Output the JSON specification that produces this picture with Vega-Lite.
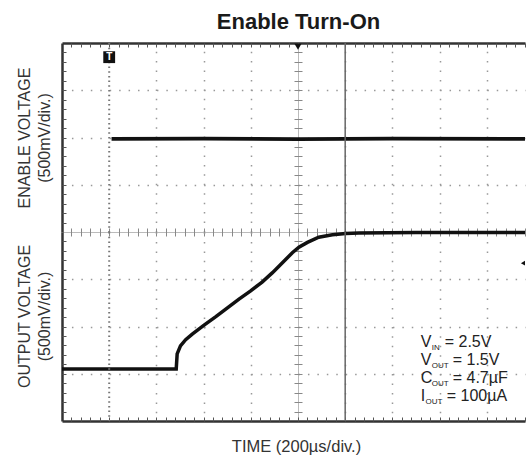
{
  "$schema": "https://vega.github.io/schema/vega-lite/v6.json",
  "background": "white",
  "padding": {"left": 16, "top": 11, "right": 0, "bottom": 0},
  "config": {"view": {"stroke": null}, "font": "Liberation Sans"},
  "spacing": 0,
  "bounds": "flush",
  "datasets": {
    "enable": [{"t": 1.05, "v": 5.97}, {"t": 3.0, "v": 5.975}, {"t": 5.0, "v": 5.965}, {"t": 7.0, "v": 5.975}, {"t": 9.81, "v": 5.97}],
    "output": [
      {"t": 0.0, "v": 1.1}, {"t": 1.2, "v": 1.1}, {"t": 2.42, "v": 1.1}, {"t": 2.44, "v": 1.42},
      {"t": 2.51, "v": 1.59}, {"t": 2.62, "v": 1.72}, {"t": 2.76, "v": 1.84}, {"t": 3.01, "v": 2.03},
      {"t": 3.26, "v": 2.21}, {"t": 3.47, "v": 2.37}, {"t": 3.75, "v": 2.58}, {"t": 3.99, "v": 2.75},
      {"t": 4.24, "v": 2.94}, {"t": 4.46, "v": 3.14}, {"t": 4.67, "v": 3.35}, {"t": 4.88, "v": 3.56},
      {"t": 5.02, "v": 3.68}, {"t": 5.2, "v": 3.78}, {"t": 5.44, "v": 3.89}, {"t": 5.73, "v": 3.94},
      {"t": 6.01, "v": 3.97}, {"t": 6.29, "v": 3.98}, {"t": 7.5, "v": 3.99}, {"t": 9.81, "v": 3.99}
    ],
    "notes": [
      {"t": 7.6, "v": 1.57, "sym": "V", "sub": "IN", "val": "= 2.5V"},
      {"t": 7.6, "v": 1.19, "sym": "V", "sub": "OUT", "val": "= 1.5V"},
      {"t": 7.6, "v": 0.81, "sym": "C", "sub": "OUT", "val": "= 4.7µF"},
      {"t": 7.6, "v": 0.43, "sym": "I", "sub": "OUT", "val": "= 100µA"}
    ]
  },
  "vconcat": [
    {
      "width": 463,
      "height": 189,
      "title": {"text": "Enable Turn-On", "fontSize": 22, "fontWeight": "bold", "color": "#1a1a1a", "offset": 8, "dx": 5, "anchor": "middle"},
      "resolve": {"axis": {"x": "independent", "y": "independent"}},
      "layer": [
        {
          "data": {"name": "enable"},
          "mark": {"type": "line", "color": "#111", "strokeWidth": 3.8},
          "encoding": {
            "x": {"field": "t", "type": "quantitative", "scale": {"domain": [0, 9.81], "nice": false, "zero": false},
              "axis": {"orient": "top", "domain": true, "domainColor": "#333", "domainWidth": 2.5, "ticks": false, "labels": false, "grid": true, "gridColor": "#999", "gridWidth": 1.5, "gridDash": [1.5, 7.94], "values": [2, 3, 4, 6, 7, 8, 9], "title": null}},
            "y": {"field": "v", "type": "quantitative", "scale": {"domain": [4, 8], "nice": false, "zero": false},
              "axis": {"orient": "left", "domain": true, "domainColor": "#333", "domainWidth": 2.5, "ticks": false, "labels": false, "grid": true, "gridColor": "#999", "gridWidth": 1.5, "gridDash": [1.5, 7.94], "values": [5, 6, 7], "title": ["ENABLE VOLTAGE", "(500mV/div.)"], "titleFontSize": 16, "titleFontWeight": "normal", "titleColor": "#333", "titlePadding": 10, "titleLineHeight": 20}}
          }
        },
        {
          "data": {"name": "enable"},
          "mark": {"type": "point", "opacity": 0},
          "encoding": {
            "x": {"field": "t", "type": "quantitative", "scale": {"domain": [0, 9.81], "nice": false, "zero": false},
              "axis": {"orient": "top", "offset": -4, "tickSize": 4, "tickColor": "#555", "tickWidth": 1, "domain": false, "labels": false, "grid": false, "title": null,
                "values": [0.2,0.4,0.6,0.8,1,1.2,1.4,1.6,1.8,2,2.2,2.4,2.6,2.8,3,3.2,3.4,3.6,3.8,4,4.2,4.4,4.6,4.8,5,5.2,5.4,5.6,5.8,6,6.2,6.4,6.6,6.8,7,7.2,7.4,7.6,7.8,8,8.2,8.4,8.6,8.8,9,9.2,9.4,9.6,9.8]}},
            "y": {"field": "v", "type": "quantitative", "scale": {"domain": [4, 8], "nice": false, "zero": false},
              "axis": {"orient": "left", "offset": -4, "tickSize": 4, "tickColor": "#555", "tickWidth": 1, "domain": false, "labels": false, "grid": false, "title": null,
                "values": [4.2,4.4,4.6,4.8,5,5.2,5.4,5.6,5.8,6,6.2,6.4,6.6,6.8,7,7.2,7.4,7.6,7.8]}}
          }
        },
        {
          "data": {"name": "enable"},
          "mark": {"type": "point", "opacity": 0},
          "encoding": {
            "x": {"field": "t", "type": "quantitative", "scale": {"domain": [0, 9.81], "nice": false, "zero": false},
              "axis": {"orient": "bottom", "offset": -4, "tickSize": 8, "tickColor": "#888", "tickWidth": 1, "domain": false, "labels": false, "grid": false, "title": null,
                "values": [0.2,0.4,0.6,0.8,1,1.2,1.4,1.6,1.8,2,2.2,2.4,2.6,2.8,3,3.2,3.4,3.6,3.8,4,4.2,4.4,4.6,4.8,5,5.2,5.4,5.6,5.8,6,6.2,6.4,6.6,6.8,7,7.2,7.4,7.6,7.8,8,8.2,8.4,8.6,8.8,9,9.2,9.4,9.6,9.8]}},
            "y": {"field": "v", "type": "quantitative", "scale": {"domain": [4, 8], "nice": false, "zero": false},
              "axis": {"orient": "left", "offset": -240, "tickSize": 8, "tickColor": "#888", "tickWidth": 1, "domain": false, "labels": false, "grid": false, "title": null,
                "values": [4.2,4.4,4.6,4.8,5,5.2,5.4,5.6,5.8,6,6.2,6.4,6.6,6.8,7,7.2,7.4,7.6,7.8]}}
          }
        },
        {
          "data": {"name": "enable"},
          "mark": {"type": "point", "opacity": 0},
          "encoding": {
            "x": {"field": "t", "type": "quantitative", "scale": {"domain": [0, 9.81], "nice": false, "zero": false},
              "axis": {"orient": "top", "domain": false, "ticks": false, "labels": false, "grid": true, "gridColor": "#bbb", "gridWidth": 1, "values": [5], "title": null}},
            "y": {"field": "v", "type": "quantitative", "scale": {"domain": [4, 8], "nice": false, "zero": false},
              "axis": {"orient": "left", "domain": false, "ticks": false, "labels": false, "grid": true, "gridColor": "#bbb", "gridWidth": 1, "values": [4], "title": null}}
          }
        },
        {
          "data": {"values": [{"t": 1}]},
          "mark": {"type": "rule", "color": "#777", "strokeWidth": 2, "strokeDash": [1.5, 3.2]},
          "encoding": {"x": {"field": "t", "type": "quantitative", "axis": null}}
        },
        {
          "data": {"values": [{"t": 6}]},
          "mark": {"type": "rule", "color": "#666", "strokeWidth": 1.5},
          "encoding": {"x": {"field": "t", "type": "quantitative", "axis": null}}
        },
        {
          "data": {"values": [{"t": 1, "v": 7.7, "label": "T"}]},
          "encoding": {"x": {"field": "t", "type": "quantitative", "axis": null}, "y": {"field": "v", "type": "quantitative", "axis": null}},
          "layer": [
            {"mark": {"type": "point", "shape": "square", "filled": true, "color": "#111", "size": 140, "opacity": 1}},
            {"mark": {"type": "text", "color": "white", "fontSize": 10, "fontWeight": "bold", "align": "center", "baseline": "middle"}, "encoding": {"text": {"field": "label"}}}
          ]
        },
        {
          "data": {"values": [{"t": 5, "v": 7.92}]},
          "mark": {"type": "point", "shape": "triangle-down", "filled": true, "color": "#111", "size": 50, "opacity": 1},
          "encoding": {"x": {"field": "t", "type": "quantitative", "axis": null}, "y": {"field": "v", "type": "quantitative", "axis": null}}
        }
      ]
    },
    {
      "width": 463,
      "height": 189,
      "resolve": {"axis": {"x": "independent", "y": "independent"}},
      "layer": [
        {
          "data": {"name": "output"},
          "mark": {"type": "line", "color": "#111", "strokeWidth": 3.5},
          "encoding": {
            "x": {"field": "t", "type": "quantitative", "scale": {"domain": [0, 9.81], "nice": false, "zero": false},
              "axis": {"orient": "bottom", "domain": true, "domainColor": "#333", "domainWidth": 2.5, "ticks": false, "labels": false, "grid": true, "gridColor": "#999", "gridWidth": 1.5, "gridDash": [1.5, 7.94], "values": [2, 3, 4, 6, 7, 8, 9], "title": "TIME (200µs/div.)", "titleFontSize": 16.5, "titleFontWeight": "normal", "titleColor": "#333", "titlePadding": 17, "titleX": 234}},
            "y": {"field": "v", "type": "quantitative", "scale": {"domain": [0, 4], "nice": false, "zero": false},
              "axis": {"orient": "left", "domain": true, "domainColor": "#333", "domainWidth": 2.5, "ticks": false, "labels": false, "grid": true, "gridColor": "#999", "gridWidth": 1.5, "gridDash": [1.5, 7.94], "values": [1, 2, 3], "title": ["OUTPUT VOLTAGE", "(500mV/div.)"], "titleFontSize": 16, "titleFontWeight": "normal", "titleColor": "#333", "titlePadding": 10, "titleLineHeight": 20, "titleY": 84}}
          }
        },
        {
          "data": {"name": "output"},
          "mark": {"type": "point", "opacity": 0},
          "encoding": {
            "x": {"field": "t", "type": "quantitative", "scale": {"domain": [0, 9.81], "nice": false, "zero": false},
              "axis": {"orient": "bottom", "offset": -4, "tickSize": 4, "tickColor": "#555", "tickWidth": 1, "domain": false, "labels": false, "grid": false, "title": null,
                "values": [0.2,0.4,0.6,0.8,1,1.2,1.4,1.6,1.8,2,2.2,2.4,2.6,2.8,3,3.2,3.4,3.6,3.8,4,4.2,4.4,4.6,4.8,5,5.2,5.4,5.6,5.8,6,6.2,6.4,6.6,6.8,7,7.2,7.4,7.6,7.8,8,8.2,8.4,8.6,8.8,9,9.2,9.4,9.6,9.8]}},
            "y": {"field": "v", "type": "quantitative", "scale": {"domain": [0, 4], "nice": false, "zero": false},
              "axis": {"orient": "left", "offset": -4, "tickSize": 4, "tickColor": "#555", "tickWidth": 1, "domain": false, "labels": false, "grid": false, "title": null,
                "values": [0.2,0.4,0.6,0.8,1,1.2,1.4,1.6,1.8,2,2.2,2.4,2.6,2.8,3,3.2,3.4,3.6,3.8]}}
          }
        },
        {
          "data": {"name": "output"},
          "mark": {"type": "point", "opacity": 0},
          "encoding": {
            "x": {"field": "t", "type": "quantitative", "scale": {"domain": [0, 9.81], "nice": false, "zero": false},
              "axis": {"orient": "top", "domain": false, "ticks": false, "labels": false, "grid": true, "gridColor": "#bbb", "gridWidth": 1, "values": [5], "title": null}},
            "y": {"field": "v", "type": "quantitative", "scale": {"domain": [0, 4], "nice": false, "zero": false},
              "axis": {"orient": "left", "offset": -240, "tickSize": 8, "tickColor": "#888", "tickWidth": 1, "domain": false, "labels": false, "grid": false, "title": null,
                "values": [0.2,0.4,0.6,0.8,1,1.2,1.4,1.6,1.8,2,2.2,2.4,2.6,2.8,3,3.2,3.4,3.6,3.8]}}
          }
        },
        {
          "data": {"values": [{"t": 1}]},
          "mark": {"type": "rule", "color": "#777", "strokeWidth": 2, "strokeDash": [1.5, 3.2]},
          "encoding": {"x": {"field": "t", "type": "quantitative", "axis": null}}
        },
        {
          "data": {"values": [{"t": 6}]},
          "mark": {"type": "rule", "color": "#666", "strokeWidth": 1.5},
          "encoding": {"x": {"field": "t", "type": "quantitative", "axis": null}}
        },
        {
          "data": {"values": [{"t": 9.8, "v": 3.34}]},
          "mark": {"type": "point", "shape": "triangle-left", "filled": true, "color": "#111", "size": 70, "opacity": 1, "clip": true},
          "encoding": {"x": {"field": "t", "type": "quantitative", "axis": null}, "y": {"field": "v", "type": "quantitative", "axis": null}}
        },
        {
          "data": {"name": "notes"},
          "encoding": {"x": {"field": "t", "type": "quantitative", "axis": null}, "y": {"field": "v", "type": "quantitative", "axis": null}},
          "layer": [
            {"mark": {"type": "text", "fontSize": 16, "color": "#222", "align": "left", "baseline": "alphabetic"}, "encoding": {"text": {"field": "sym"}}},
            {"transform": [{"filter": "datum.sym !== 'I'"}], "mark": {"type": "text", "fontSize": 8, "color": "#222", "align": "left", "baseline": "alphabetic", "dx": 11, "dy": 3}, "encoding": {"text": {"field": "sub"}}},
            {"transform": [{"filter": "datum.sym === 'I'"}], "mark": {"type": "text", "fontSize": 8, "color": "#222", "align": "left", "baseline": "alphabetic", "dx": 4.8, "dy": 3}, "encoding": {"text": {"field": "sub"}}},
            {"transform": [{"filter": "datum.sub === 'IN'"}], "mark": {"type": "text", "fontSize": 16, "color": "#222", "align": "left", "baseline": "alphabetic", "dx": 24}, "encoding": {"text": {"field": "val"}}},
            {"transform": [{"filter": "datum.sub === 'OUT' && datum.sym !== 'I'"}], "mark": {"type": "text", "fontSize": 16, "color": "#222", "align": "left", "baseline": "alphabetic", "dx": 32}, "encoding": {"text": {"field": "val"}}},
            {"transform": [{"filter": "datum.sym === 'I'"}], "mark": {"type": "text", "fontSize": 16, "color": "#222", "align": "left", "baseline": "alphabetic", "dx": 26}, "encoding": {"text": {"field": "val"}}}
          ]
        }
      ]
    }
  ]
}
